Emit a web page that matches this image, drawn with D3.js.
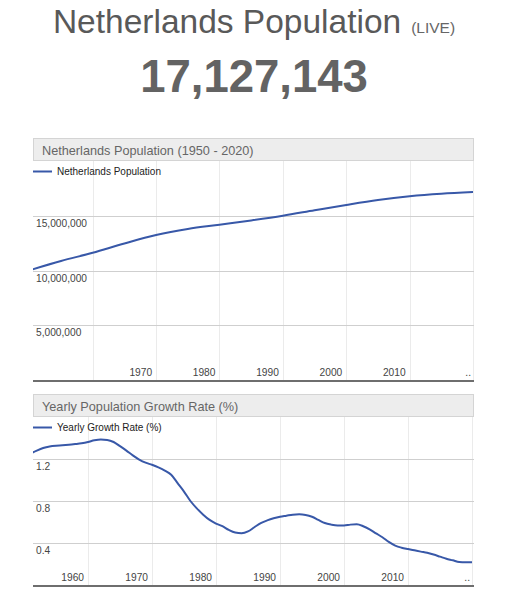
<!DOCTYPE html>
<html>
<head>
<meta charset="utf-8">
<script src="https://cdn.jsdelivr.net/npm/d3@7"></script>
<style>
  html, body { margin: 0; padding: 0; background: #fff; }
  svg { display: block; font-family: Arial, "Liberation Sans", sans-serif; }
</style>
</head>
<body>
<svg id="chart" width="510" height="600"></svg>
<script>
// ---- Data ----
const popYears = [1950, 1955, 1960, 1965, 1970, 1975, 1980, 1985, 1990, 1995, 2000, 2005, 2010, 2015, 2020];
const popValues = [10020000, 10870000, 11620000, 12470000, 13240000, 13790000, 14180000, 14570000, 15000000, 15500000, 15990000, 16440000, 16780000, 17010000, 17160000];

const rateYears = [1951,1952,1953,1954,1955,1956,1957,1958,1959,1960,
  1961,1962,1963,1964,1965,1966,1967,1968,1969,1970,
  1971,1972,1973,1974,1975,1976,1977,1978,1979,1980,
  1981,1982,1983,1984,1985,1986,1987,1988,1989,1990,
  1991,1992,1993,1994,1995,1996,1997,1998,1999,2000,
  2001,2002,2003,2004,2005,2006,2007,2008,2009,2010,
  2011,2012,2013,2014,2015,2016,2017,2018,2019,2020];
const rateValues = [1.25,1.28,1.305,1.32,1.327,1.33,1.335,1.342,1.35,1.362,
  1.378,1.386,1.382,1.362,1.322,1.28,1.235,1.195,1.165,1.145,
  1.12,1.09,1.05,0.97,0.89,0.80,0.73,0.67,0.62,0.585,
  0.56,0.525,0.50,0.493,0.51,0.55,0.59,0.615,0.635,0.65,
  0.66,0.67,0.673,0.667,0.65,0.62,0.59,0.575,0.567,0.567,
  0.575,0.578,0.56,0.53,0.492,0.455,0.41,0.375,0.355,0.342,
  0.33,0.318,0.307,0.29,0.27,0.25,0.235,0.218,0.216,0.216];

const popXTicks = [1960, 1970, 1980, 1990, 2000, 2010, 2020];
const popXLabels = ["", "1970", "1980", "1990", "2000", "2010", ".."];
const popYTicks = [5000000, 10000000, 15000000];
const popYLabels = ["5,000,000", "10,000,000", "15,000,000"];

const rateXTicks = [1960, 1970, 1980, 1990, 2000, 2010, 2020];
const rateXLabels = ["1960", "1970", "1980", "1990", "2000", "2010", ".."];
const rateYTicks = [0.4, 0.8, 1.2];
const rateYLabels = ["0.4", "0.8", "1.2"];

const headerTitle = "Netherlands Population";
const headerLive = "(LIVE)";
const headerNumber = "17,127,143";

const svg = d3.select("#chart");

// ---- Header ----
const head = svg.append("text")
  .attr("x", 254).attr("y", 33)
  .attr("text-anchor", "middle")
  .attr("fill", "#595959");
head.append("tspan").attr("font-size", "33.5px").text(headerTitle);
head.append("tspan").attr("font-size", "15.5px").attr("dx", 10).attr("fill", "#666").text(headerLive);

svg.append("text")
  .attr("x", 254).attr("y", 92)
  .attr("text-anchor", "middle")
  .attr("font-size", "45.5px")
  .attr("font-weight", "bold")
  .attr("fill", "#636363")
  .text(headerNumber);

// ---- Generic panel ----
function panel(cfg) {
  const g = svg.append("g");
  const left = 33, right = 474;
  const x = d3.scaleLinear().domain(cfg.xDomain).range(cfg.xRange);
  const y = d3.scaleLinear().domain(cfg.yDomain).range([cfg.bottom, cfg.top]);

  // title box
  g.append("rect")
    .attr("x", left + 0.5).attr("y", cfg.boxTop + 0.5)
    .attr("width", right - left - 1).attr("height", cfg.top - cfg.boxTop - 1)
    .attr("fill", "#ededed").attr("stroke", "#d4d4d4");
  g.append("text")
    .attr("x", 42).attr("y", cfg.top - 6)
    .attr("font-size", "12.7px").attr("fill", "#666")
    .text(cfg.title);

  // vertical gridlines
  g.selectAll(".vg").data(cfg.xTicks).enter().append("line")
    .attr("x1", d => Math.round(x(d)) + 0.5).attr("x2", d => Math.round(x(d)) + 0.5)
    .attr("y1", cfg.top).attr("y2", cfg.bottom)
    .attr("stroke", "#ebebeb").attr("stroke-width", 1);

  // horizontal gridlines
  g.selectAll(".hg").data(cfg.yTicks).enter().append("line")
    .attr("x1", left).attr("x2", right)
    .attr("y1", d => Math.round(y(d)) + 0.5).attr("y2", d => Math.round(y(d)) + 0.5)
    .attr("stroke", "#cfcfcf").attr("stroke-width", 1);

  // y labels (below gridline, inside)
  g.selectAll(".yl").data(cfg.yTicks).enter().append("text")
    .attr("x", 36).attr("y", d => y(d) + 11)
    .attr("font-size", "10.2px").attr("fill", "#444")
    .text((d, i) => cfg.yLabels[i]);

  // x labels
  g.selectAll(".xl").data(cfg.xTicks).enter().append("text")
    .attr("x", (d, i) => cfg.xLabels[i] === ".." ? x(d) - 2 : x(d) - 4)
    .attr("y", cfg.bottom - 4)
    .attr("text-anchor", "end")
    .attr("font-size", "10.2px").attr("fill", "#444")
    .text((d, i) => cfg.xLabels[i]);

  // clip
  const cid = "clip" + cfg.id;
  svg.append("clipPath").attr("id", cid).append("rect")
    .attr("x", left).attr("y", cfg.top).attr("width", right - left).attr("height", cfg.bottom - cfg.top);

  const line = d3.line()
    .x((d, i) => x(cfg.xs[i]))
    .y(d => y(d))
    .curve(d3.curveMonotoneX);
  g.append("path")
    .datum(cfg.ys)
    .attr("clip-path", "url(#" + cid + ")")
    .attr("d", line)
    .attr("fill", "none")
    .attr("stroke", "#3858a8")
    .attr("stroke-width", 2);

  // baseline
  g.append("line")
    .attr("x1", left).attr("x2", right)
    .attr("y1", cfg.bottom + 1).attr("y2", cfg.bottom + 1)
    .attr("stroke", "#6e6e6e").attr("stroke-width", 2);

  // legend
  const ly = cfg.top + 10.5;
  g.append("line")
    .attr("x1", left).attr("x2", 52).attr("y1", ly).attr("y2", ly)
    .attr("stroke", "#3858a8").attr("stroke-width", 2);
  g.append("text")
    .attr("x", 57).attr("y", ly + 3.5)
    .attr("font-size", "10px").attr("fill", "#222")
    .text(cfg.legend);
}

panel({
  id: 1,
  boxTop: 138, top: 161, bottom: 380,
  xDomain: [1960, 2020], xRange: [92.7, 473],
  yDomain: [0, 20000000],
  xTicks: popXTicks, xLabels: popXLabels,
  yTicks: popYTicks, yLabels: popYLabels,
  xs: popYears, ys: popValues,
  title: "Netherlands Population (1950 - 2020)",
  legend: "Netherlands Population"
});

panel({
  id: 2,
  boxTop: 394, top: 417, bottom: 585,
  xDomain: [1960, 2020], xRange: [88, 472],
  yDomain: [0, 1.6],
  xTicks: rateXTicks, xLabels: rateXLabels,
  yTicks: rateYTicks, yLabels: rateYLabels,
  xs: rateYears, ys: rateValues,
  title: "Yearly Population Growth Rate (%)",
  legend: "Yearly Growth Rate (%)"
});
</script>
</body>
</html>
